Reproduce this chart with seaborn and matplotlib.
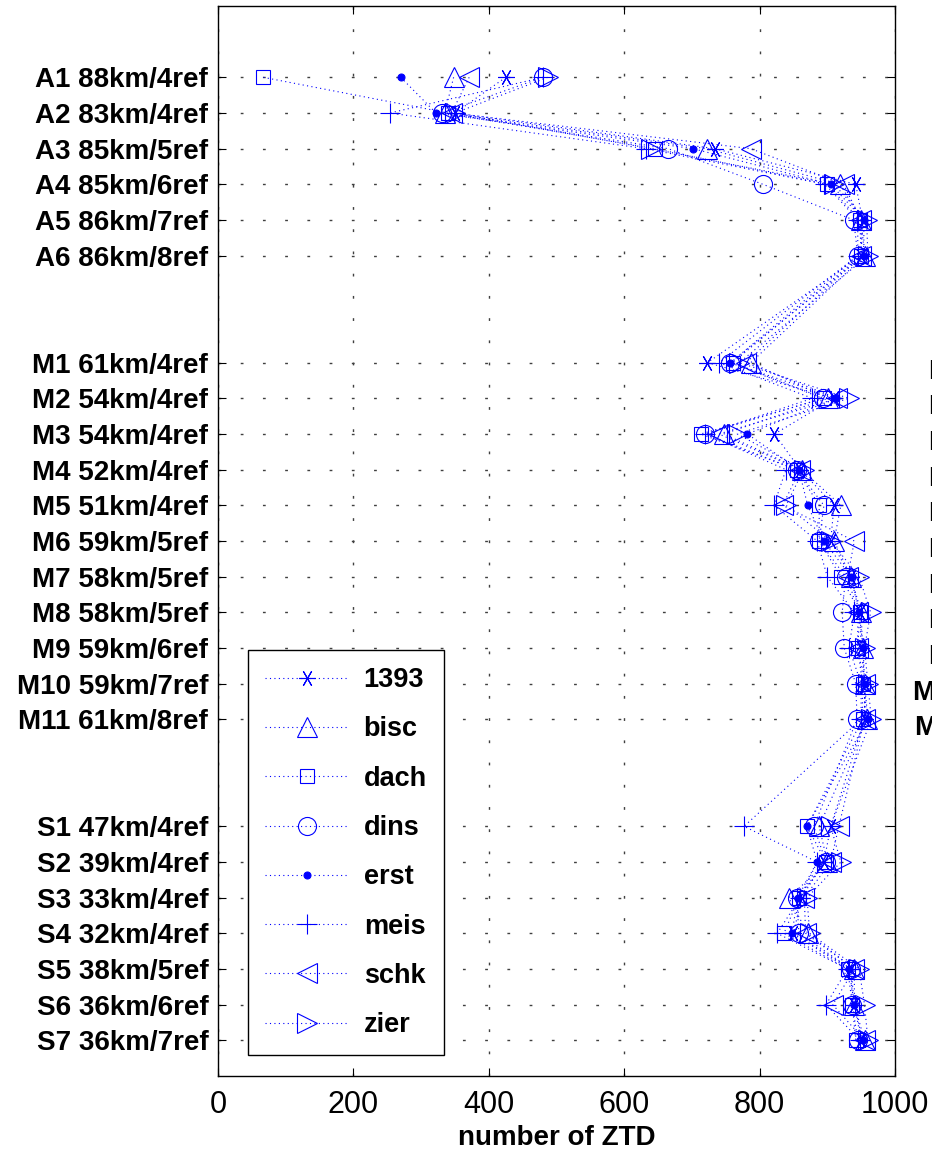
import matplotlib
matplotlib.use("Agg")
import matplotlib.pyplot as plt
import matplotlib.transforms as mtransforms
import pandas as pd
import seaborn as sns

# station rows (top to bottom), gaps between the A / M / S groups
labels = [
    "A1 88km/4ref", "A2 83km/4ref", "A3 85km/5ref", "A4 85km/6ref", "A5 86km/7ref", "A6 86km/8ref",
    "M1 61km/4ref", "M2 54km/4ref", "M3 54km/4ref", "M4 52km/4ref", "M5 51km/4ref", "M6 59km/5ref",
    "M7 58km/5ref", "M8 58km/5ref", "M9 59km/6ref", "M10 59km/7ref", "M11 61km/8ref",
    "S1 47km/4ref", "S2 39km/4ref", "S3 33km/4ref", "S4 32km/4ref", "S5 38km/5ref", "S6 36km/6ref",
    "S7 36km/7ref",
]
rows = list(range(1, 7)) + list(range(9, 20)) + list(range(22, 29))

n1393 = [425, 350, 734, 942, 952, 950, 723, 910, 822, 860, 910, 905, 935, 948, 950, 955, 955,
         905, 895, 862, 850, 935, 940, 950]
bisc = [348, 335, 722, 919, 950, 955, 787, 901, 747, 862, 920, 910, 935, 950, 952, 955, 958,
        888, 900, 843, 871, 940, 940, 955]
dach = [67, 340, 645, 900, 948, 950, 760, 895, 713, 855, 888, 888, 920, 948, 945, 952, 952,
        870, 898, 858, 836, 930, 937, 942]
dins = [480, 331, 665, 805, 939, 945, 757, 893, 720, 855, 895, 888, 927, 922, 925, 942, 944,
        880, 898, 855, 858, 935, 937, 945]
erst = [270, 322, 702, 905, 954, 954, 757, 913, 782, 858, 871, 895, 935, 947, 953, 955, 960,
        870, 885, 856, 848, 932, 940, 952]
meis = [480, 254, 632, 897, 945, 945, 740, 878, 720, 839, 821, 885, 900, 940, 932, 950, 950,
        777, 885, 860, 826, 930, 898, 948]
schk = [371, 345, 787, 924, 950, 950, 780, 915, 740, 860, 834, 940, 930, 945, 945, 955, 955,
        917, 905, 866, 868, 940, 908, 955]
zier = [487, 350, 640, 910, 958, 960, 770, 932, 767, 865, 839, 905, 947, 964, 955, 960, 965,
        905, 920, 870, 874, 947, 955, 960]

series = {"1393": n1393, "bisc": bisc, "dach": dach, "dins": dins,
          "erst": erst, "meis": meis, "schk": schk, "zier": zier}

# marker style per station (MATLAB-like)
styles = {
    "1393": dict(marker=(6, 2, 90), markersize=12),
    "bisc": dict(marker="^", markersize=15),
    "dach": dict(marker="s", markersize=10),
    "dins": dict(marker="o", markersize=13),
    "erst": dict(marker="o", markersize=5),
    "meis": dict(marker="+", markersize=15),
    "schk": dict(marker="<", markersize=15),
    "zier": dict(marker=">", markersize=15),
}

df = pd.concat(
    [pd.DataFrame({"station": k, "row": rows, "ztd": v}) for k, v in series.items()],
    ignore_index=True,
)

sns.set_theme(style="white")
plt.rcParams["font.family"] = ["Liberation Sans", "DejaVu Sans"]
plt.rcParams.update({"text.color": "black", "axes.labelcolor": "black",
                     "xtick.color": "black", "ytick.color": "black"})

fig = plt.figure(figsize=(9.32, 11.53), dpi=100)
ax = fig.add_axes([218 / 932, 1 - 1076 / 1153, 677 / 932, 1070 / 1153])

blue = "#0000ff"
for name, st in styles.items():
    sub = df[df["station"] == name]
    filled = name == "erst"
    sns.lineplot(
        data=sub, x="ztd", y="row", orient="y", sort=False, estimator=None,
        ax=ax, color=blue, linestyle=(0, (1, 3)), linewidth=0.8,
        marker=st["marker"], markersize=st["markersize"],
        markerfacecolor=blue if filled else "none", markeredgecolor=blue,
        markeredgewidth=0.8, label=name,
    )

ax.set_xlim(0, 1000)
ax.set_ylim(29, -1)
ax.set_xticks([0, 200, 400, 600, 800, 1000])
ax.set_xticklabels(["0", "200", "400", "600", "800", "1000"], fontsize=22)
ax.set_yticks(rows)
ax.set_yticklabels(labels, fontsize=20, fontweight="bold")
ax.set_xlabel("number of ZTD", fontsize=20, fontweight="bold", labelpad=4)
ax.set_ylabel("")

ax.tick_params(axis="both", direction="in", length=6, width=0.8, color="black",
               top=True, right=True, bottom=True, left=True)
ax.tick_params(axis="y", pad=7)
ax.tick_params(axis="x", pad=10)
ax.grid(True, color="0.25", linestyle=(0, (2, 14)), linewidth=1.0)
for sp in ax.spines.values():
    sp.set_color("black")
    sp.set_linewidth(1.0)

leg = ax.legend(
    loc="lower left", bbox_to_anchor=(0.0443, 0.0196), borderaxespad=0,
    fancybox=False, framealpha=1, edgecolor="black", frameon=True,
    prop={"size": 19.5, "weight": "bold"}, handlelength=3.1, handletextpad=0.55,
    labelspacing=0.86, borderpad=0.62,
)
leg.get_frame().set_linewidth(1.0)

# labels of the neighbouring panel, cut off by the right figure edge
fig.canvas.draw()
renderer = fig.canvas.get_renderer()
m1 = ax.get_yticklabels()[labels.index("M1 61km/4ref")].get_window_extent(renderer)
right_px = m1.x1 + (929 - m1.x0)
trans = mtransforms.blended_transform_factory(fig.transFigure, ax.transData) + \
    mtransforms.ScaledTranslation(0, -9 / 100, fig.dpi_scale_trans)
for lab, r in zip(labels, rows):
    fig.text(right_px / 932, r, lab, transform=trans, ha="right", va="center",
             fontsize=20, fontweight="bold")

fig.savefig("out.png", dpi=100)
